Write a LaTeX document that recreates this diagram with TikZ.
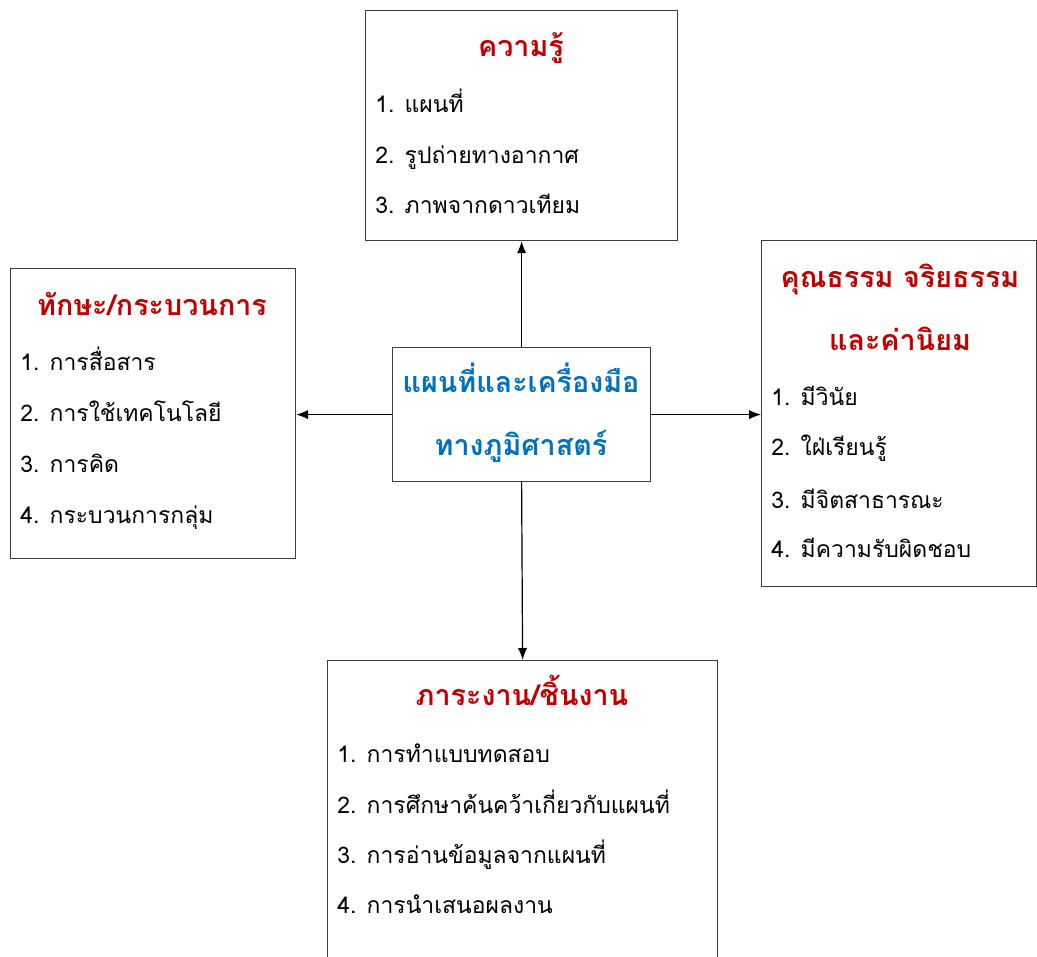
\documentclass[tikz,border=0pt]{standalone}
\usepackage{fontspec}
\newfontfamily\thai[Script=Thai]{Loma}
\usetikzlibrary{arrows.meta}
\definecolor{tred}{RGB}{192,0,0}
\definecolor{tblue}{RGB}{0,112,192}
\definecolor{edge}{RGB}{60,60,60}
\tikzset{
  box/.style={draw=edge, line width=0.9pt, fill=white, inner sep=0pt, anchor=north west},
  ttl/.style={text=tred, font=\thai\bfseries\fontsize{21.5}{24}\selectfont, inner sep=0pt, anchor=base},
  ctr/.style={text=tblue, font=\thai\bfseries\fontsize{21.5}{24}\selectfont, inner sep=0pt, anchor=base},
  itm/.style={text=black, font=\thai\fontsize{17.2}{20}\selectfont, anchor=base west, inner sep=0pt},
  arr/.style={-{Latex[length=9pt,width=7pt]}, line width=0.9pt, black}
}
\begin{document}
\begin{tikzpicture}[x=0.75pt,y=-0.75pt]
\useasboundingbox (0,0) rectangle (1037,956);
\clip (0,0) rectangle (1037,956);
% boxes
\node[box, minimum width=312*0.75pt, minimum height=230*0.75pt] (top) at (365,10) {};
\node[box, minimum width=285*0.75pt, minimum height=290*0.75pt] (left) at (10,268) {};
\node[box, minimum width=275*0.75pt, minimum height=346*0.75pt] (right) at (761,240) {};
\node[box, minimum width=390*0.75pt, minimum height=320*0.75pt] (bottom) at (327,660) {};
\node[box, minimum width=258*0.75pt, minimum height=134*0.75pt] (center) at (392,347) {};
% arrows
\draw[arr] (center.north) -- (top.south);
\draw[arr] (center.west) -- (left.east |- center.west);
\draw[arr] (center.east) -- (right.west |- center.east);
\draw[arr] (center.south) -- (bottom.north);
% center text
\node[ctr] (c1) at (521,392) {แผนที่และเครื่องมือ};
\node[ctr] (c2) at (521,455) {ทางภูมิศาสตร์};
% top
\node[ttl] (t0) at (521,57) {ความรู้};
\node[itm] (t1) at (375,112) {1. แผนที่};
\node[itm] (t2) at (375,163) {2. รูปถ่ายทางอากาศ};
\node[itm] (t3) at (375,213) {3. ภาพจากดาวเทียม};
% left
\node[ttl] (l0) at (152,315) {ทักษะ/กระบวนการ};
\node[itm] (l1) at (20,370) {1. การสื่อสาร};
\node[itm] (l2) at (20,421) {2. การใช้เทคโนโลยี};
\node[itm] (l3) at (20,472) {3. การคิด};
\node[itm] (l4) at (20,523) {4. กระบวนการกลุ่ม};
% right
\node[ttl] (r0) at (900,287) {คุณธรรม จริยธรรม};
\node[ttl] (r0b) at (900,350) {และค่านิยม};
\node[itm] (r1) at (771,405) {1. มีวินัย};
\node[itm] (r2) at (771,455) {2. ใฝ่เรียนรู้};
\node[itm] (r3) at (771,508) {3. มีจิตสาธารณะ};
\node[itm] (r4) at (771,557) {4. มีความรับผิดชอบ};
% bottom
\node[ttl] (b0) at (522,705) {ภาระงาน/ชิ้นงาน};
\node[itm] (b1) at (337,762) {1. การทำแบบทดสอบ};
\node[itm] (b2) at (337,813) {2. การศึกษาค้นคว้าเกี่ยวกับแผนที่};
\node[itm] (b3) at (337,863) {3. การอ่านข้อมูลจากแผนที่};
\node[itm] (b4) at (337,913) {4. การนำเสนอผลงาน};
\end{tikzpicture}
\end{document}
